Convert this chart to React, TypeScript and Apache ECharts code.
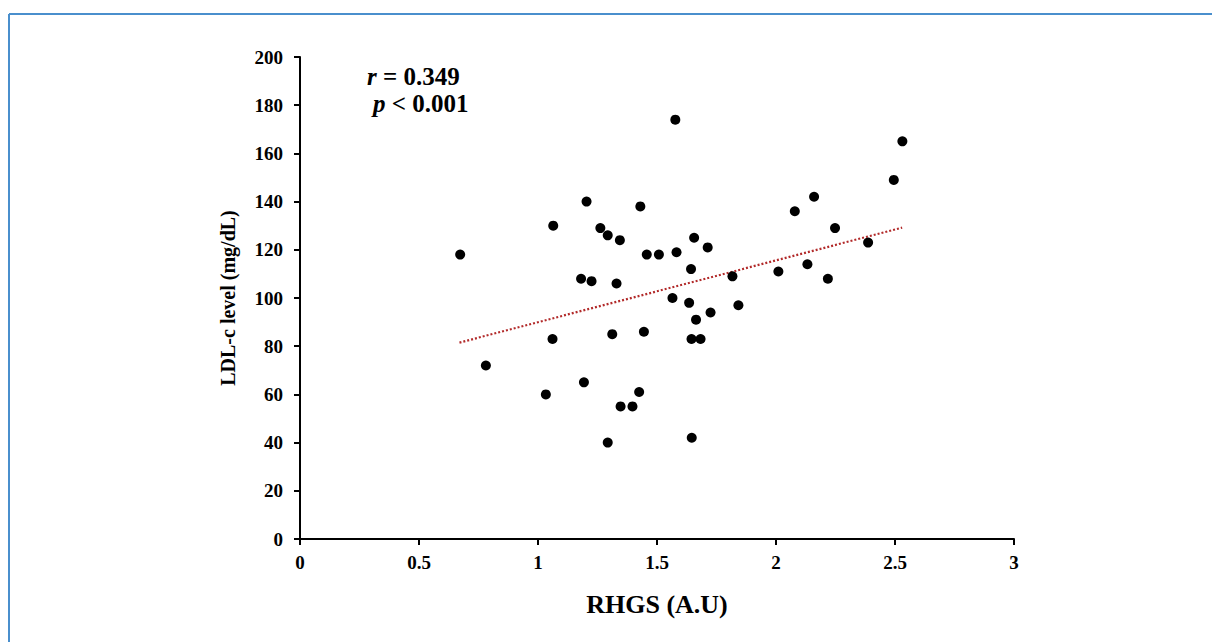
import React, { useEffect, useRef } from "react";
import * as echarts from "echarts";

const rhgs = [
  0.673, 0.781, 1.033, 1.061, 1.064, 1.181, 1.193, 1.204, 1.225, 1.262, 1.293, 1.293, 1.312, 1.33, 1.344,
  1.347, 1.397, 1.425, 1.43, 1.445, 1.457, 1.508, 1.565, 1.577, 1.582, 1.635, 1.643, 1.645, 1.646, 1.656,
  1.664, 1.683, 1.713, 1.725, 1.817, 1.842, 2.01, 2.079, 2.132, 2.16, 2.218, 2.248, 2.387, 2.495, 2.531,
];
const ldl = [
  118, 72, 60, 83, 130, 108, 65, 140, 107, 129, 126, 40, 85, 106, 124,
  55, 55, 61, 138, 86, 118, 118, 100, 174, 119, 98, 112, 83, 42, 125,
  91, 83, 121, 94, 109, 97, 111, 136, 114, 142, 108, 129, 123, 149, 165,
];
const trendX = [0.67, 2.53];
const trendY = [81.5, 129.2];
const xTicks = [0, 0.5, 1, 1.5, 2, 2.5, 3];
const yTicks = [0, 20, 40, 60, 80, 100, 120, 140, 160, 180, 200];
const rText = "0.349";
const pText = "0.001";

const FONT = "'Liberation Serif', 'Times New Roman', serif";

export default function App() {
  const ref = useRef<HTMLDivElement>(null);
  useEffect(() => {
    if (!ref.current) return;
    const chart = echarts.init(ref.current, undefined, { renderer: "svg" });
    const pts = rhgs.map((x, i) => [x, ldl[i]]);
    const trend = trendX.map((x, i) => [x, trendY[i]]);
    chart.setOption({
      animation: false,
      backgroundColor: "#ffffff",
      textStyle: { fontFamily: FONT },
      grid: { left: 300, right: 198, top: 57, bottom: 103 },
      xAxis: {
        type: "value",
        min: xTicks[0],
        max: xTicks[xTicks.length - 1],
        interval: 0.5,
        name: "RHGS (A.U)",
        nameLocation: "middle",
        nameGap: 52,
        nameTextStyle: { fontFamily: FONT, fontWeight: "bold", fontSize: 26, color: "#000" },
        axisLine: { show: true, lineStyle: { color: "#000", width: 2 } },
        axisTick: { show: true, length: 6, lineStyle: { color: "#000", width: 2 } },
        axisLabel: { fontFamily: FONT, fontWeight: "bold", fontSize: 19, color: "#000", margin: 14 },
        splitLine: { show: false },
      },
      yAxis: {
        type: "value",
        min: yTicks[0],
        max: yTicks[yTicks.length - 1],
        interval: 20,
        name: "LDL-c level (mg/dL)",
        nameLocation: "middle",
        nameGap: 62,
        nameTextStyle: { fontFamily: FONT, fontWeight: "bold", fontSize: 20, color: "#000" },
        axisLine: { show: true, lineStyle: { color: "#000", width: 2 } },
        axisTick: { show: true, length: 6, lineStyle: { color: "#000", width: 2 } },
        axisLabel: { fontFamily: FONT, fontWeight: "bold", fontSize: 19, color: "#000", margin: 17 },
        splitLine: { show: false },
      },
      series: [
        {
          type: "line",
          data: trend,
          showSymbol: false,
          symbol: "none",
          lineStyle: { color: "#b22a2a", width: 2.2, type: [2, 2] },
          z: 1,
        },
        {
          type: "scatter",
          data: pts,
          symbol: "circle",
          symbolSize: 10,
          itemStyle: { color: "#000", opacity: 1 },
          z: 2,
        },
      ],
      graphic: [
        {
          type: "line",
          shape: { x1: 9, y1: 14, x2: 1212, y2: 14 },
          style: { stroke: "#4a8fcd", lineWidth: 2 },
        },
        {
          type: "line",
          shape: { x1: 9, y1: 14, x2: 9, y2: 642 },
          style: { stroke: "#4a8fcd", lineWidth: 2 },
        },
        {
          type: "text",
          left: 367,
          top: 64,
          style: {
            text: "{i|r} = " + rText,
            font: "bold 25px " + FONT,
            fill: "#000",
            rich: { i: { fontStyle: "italic", fontWeight: "bold", fontSize: 25, fontFamily: FONT } },
          },
        },
        {
          type: "text",
          left: 373,
          top: 91,
          style: {
            text: "{i|p} < " + pText,
            font: "bold 25px " + FONT,
            fill: "#000",
            rich: { i: { fontStyle: "italic", fontWeight: "bold", fontSize: 25, fontFamily: FONT } },
          },
        },
      ],
    });
    return () => chart.dispose();
  }, []);
  return (
    <div
      ref={ref}
      style={{ position: "absolute", left: 0, top: 0, width: 1212, height: 642 }}
    />
  );
}
